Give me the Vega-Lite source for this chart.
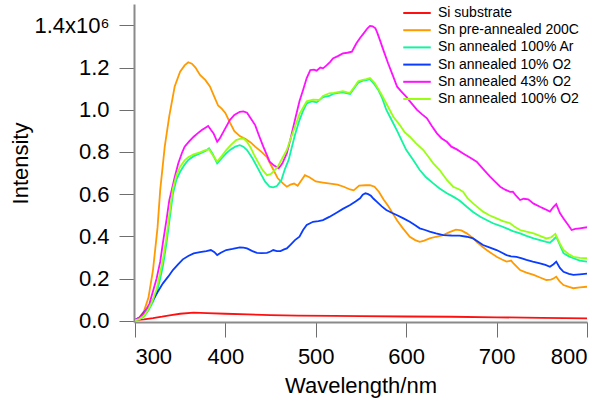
{
  "$schema": "https://vega.github.io/schema/vega-lite/v6.json",
  "autosize": "none",
  "width": 453,
  "height": 318,
  "padding": {"left": 134, "top": 4, "right": 26, "bottom": 86},
  "background": "white",
  "config": {
    "view": {"stroke": null},
    "font": "Liberation Sans",
    "axis": {
      "domainColor": "#8a8a8a",
      "domainWidth": 2,
      "tickColor": "#6e6e6e",
      "tickWidth": 1,
      "tickSize": 15,
      "grid": false,
      "labelFont": "Liberation Sans",
      "labelFontSize": 22,
      "labelColor": "#000000",
      "titleFont": "Liberation Sans",
      "titleFontSize": 22,
      "titleFontWeight": "normal",
      "titleColor": "#000000"
    },
    "legend": {
      "labelFont": "Liberation Sans",
      "labelFontSize": 14,
      "labelColor": "#000000"
    }
  },
  "data": {
    "values": [
      {"s": "Si substrate", "x": 300, "y": 3000},
      {"s": "Si substrate", "x": 310, "y": 6000},
      {"s": "Si substrate", "x": 320, "y": 12000},
      {"s": "Si substrate", "x": 330, "y": 19000},
      {"s": "Si substrate", "x": 340, "y": 27000},
      {"s": "Si substrate", "x": 350, "y": 33000},
      {"s": "Si substrate", "x": 365, "y": 38000},
      {"s": "Si substrate", "x": 380, "y": 36000},
      {"s": "Si substrate", "x": 400, "y": 33000},
      {"s": "Si substrate", "x": 425, "y": 30000},
      {"s": "Si substrate", "x": 450, "y": 27000},
      {"s": "Si substrate", "x": 480, "y": 24000},
      {"s": "Si substrate", "x": 520, "y": 23000},
      {"s": "Si substrate", "x": 550, "y": 22000},
      {"s": "Si substrate", "x": 600, "y": 20000},
      {"s": "Si substrate", "x": 650, "y": 19000},
      {"s": "Si substrate", "x": 700, "y": 16000},
      {"s": "Si substrate", "x": 750, "y": 14000},
      {"s": "Si substrate", "x": 800, "y": 11000},

      {"s": "Sn pre-annealed 200C", "x": 300, "y": 3000},
      {"s": "Sn pre-annealed 200C", "x": 305, "y": 15000},
      {"s": "Sn pre-annealed 200C", "x": 310, "y": 45000},
      {"s": "Sn pre-annealed 200C", "x": 315, "y": 110000},
      {"s": "Sn pre-annealed 200C", "x": 320, "y": 240000},
      {"s": "Sn pre-annealed 200C", "x": 325, "y": 440000},
      {"s": "Sn pre-annealed 200C", "x": 328, "y": 620000},
      {"s": "Sn pre-annealed 200C", "x": 333, "y": 825000},
      {"s": "Sn pre-annealed 200C", "x": 338, "y": 970000},
      {"s": "Sn pre-annealed 200C", "x": 344, "y": 1110000},
      {"s": "Sn pre-annealed 200C", "x": 350, "y": 1180000},
      {"s": "Sn pre-annealed 200C", "x": 355, "y": 1210000},
      {"s": "Sn pre-annealed 200C", "x": 359, "y": 1225000},
      {"s": "Sn pre-annealed 200C", "x": 363, "y": 1218000},
      {"s": "Sn pre-annealed 200C", "x": 367, "y": 1200000},
      {"s": "Sn pre-annealed 200C", "x": 372, "y": 1165000},
      {"s": "Sn pre-annealed 200C", "x": 378, "y": 1140000},
      {"s": "Sn pre-annealed 200C", "x": 383, "y": 1110000},
      {"s": "Sn pre-annealed 200C", "x": 388, "y": 1060000},
      {"s": "Sn pre-annealed 200C", "x": 392, "y": 1020000},
      {"s": "Sn pre-annealed 200C", "x": 396, "y": 1005000},
      {"s": "Sn pre-annealed 200C", "x": 400, "y": 985000},
      {"s": "Sn pre-annealed 200C", "x": 405, "y": 940000},
      {"s": "Sn pre-annealed 200C", "x": 410, "y": 898000},
      {"s": "Sn pre-annealed 200C", "x": 416, "y": 875000},
      {"s": "Sn pre-annealed 200C", "x": 422, "y": 862000},
      {"s": "Sn pre-annealed 200C", "x": 428, "y": 845000},
      {"s": "Sn pre-annealed 200C", "x": 433, "y": 825000},
      {"s": "Sn pre-annealed 200C", "x": 440, "y": 800000},
      {"s": "Sn pre-annealed 200C", "x": 446, "y": 775000},
      {"s": "Sn pre-annealed 200C", "x": 452, "y": 725000},
      {"s": "Sn pre-annealed 200C", "x": 458, "y": 675000},
      {"s": "Sn pre-annealed 200C", "x": 464, "y": 650000},
      {"s": "Sn pre-annealed 200C", "x": 468, "y": 635000},
      {"s": "Sn pre-annealed 200C", "x": 472, "y": 645000},
      {"s": "Sn pre-annealed 200C", "x": 476, "y": 650000},
      {"s": "Sn pre-annealed 200C", "x": 480, "y": 640000},
      {"s": "Sn pre-annealed 200C", "x": 484, "y": 665000},
      {"s": "Sn pre-annealed 200C", "x": 488, "y": 690000},
      {"s": "Sn pre-annealed 200C", "x": 493, "y": 680000},
      {"s": "Sn pre-annealed 200C", "x": 500, "y": 660000},
      {"s": "Sn pre-annealed 200C", "x": 508, "y": 655000},
      {"s": "Sn pre-annealed 200C", "x": 516, "y": 650000},
      {"s": "Sn pre-annealed 200C", "x": 524, "y": 645000},
      {"s": "Sn pre-annealed 200C", "x": 531, "y": 635000},
      {"s": "Sn pre-annealed 200C", "x": 538, "y": 622000},
      {"s": "Sn pre-annealed 200C", "x": 542, "y": 618000},
      {"s": "Sn pre-annealed 200C", "x": 548, "y": 640000},
      {"s": "Sn pre-annealed 200C", "x": 555, "y": 642000},
      {"s": "Sn pre-annealed 200C", "x": 560, "y": 643000},
      {"s": "Sn pre-annealed 200C", "x": 565, "y": 635000},
      {"s": "Sn pre-annealed 200C", "x": 570, "y": 610000},
      {"s": "Sn pre-annealed 200C", "x": 575, "y": 575000},
      {"s": "Sn pre-annealed 200C", "x": 580, "y": 545000},
      {"s": "Sn pre-annealed 200C", "x": 585, "y": 510000},
      {"s": "Sn pre-annealed 200C", "x": 590, "y": 475000},
      {"s": "Sn pre-annealed 200C", "x": 596, "y": 440000},
      {"s": "Sn pre-annealed 200C", "x": 604, "y": 398000},
      {"s": "Sn pre-annealed 200C", "x": 610, "y": 382000},
      {"s": "Sn pre-annealed 200C", "x": 615, "y": 374000},
      {"s": "Sn pre-annealed 200C", "x": 620, "y": 380000},
      {"s": "Sn pre-annealed 200C", "x": 626, "y": 390000},
      {"s": "Sn pre-annealed 200C", "x": 633, "y": 398000},
      {"s": "Sn pre-annealed 200C", "x": 641, "y": 406000},
      {"s": "Sn pre-annealed 200C", "x": 648, "y": 420000},
      {"s": "Sn pre-annealed 200C", "x": 655, "y": 432000},
      {"s": "Sn pre-annealed 200C", "x": 661, "y": 428000},
      {"s": "Sn pre-annealed 200C", "x": 667, "y": 414000},
      {"s": "Sn pre-annealed 200C", "x": 673, "y": 395000},
      {"s": "Sn pre-annealed 200C", "x": 678, "y": 374000},
      {"s": "Sn pre-annealed 200C", "x": 684, "y": 352000},
      {"s": "Sn pre-annealed 200C", "x": 689, "y": 335000},
      {"s": "Sn pre-annealed 200C", "x": 695, "y": 318000},
      {"s": "Sn pre-annealed 200C", "x": 700, "y": 303000},
      {"s": "Sn pre-annealed 200C", "x": 706, "y": 290000},
      {"s": "Sn pre-annealed 200C", "x": 711, "y": 280000},
      {"s": "Sn pre-annealed 200C", "x": 716, "y": 285000},
      {"s": "Sn pre-annealed 200C", "x": 719, "y": 270000},
      {"s": "Sn pre-annealed 200C", "x": 726, "y": 240000},
      {"s": "Sn pre-annealed 200C", "x": 733, "y": 228000},
      {"s": "Sn pre-annealed 200C", "x": 741, "y": 217000},
      {"s": "Sn pre-annealed 200C", "x": 748, "y": 205000},
      {"s": "Sn pre-annealed 200C", "x": 755, "y": 193000},
      {"s": "Sn pre-annealed 200C", "x": 760, "y": 195000},
      {"s": "Sn pre-annealed 200C", "x": 763, "y": 200000},
      {"s": "Sn pre-annealed 200C", "x": 766, "y": 209000},
      {"s": "Sn pre-annealed 200C", "x": 770, "y": 185000},
      {"s": "Sn pre-annealed 200C", "x": 774, "y": 169000},
      {"s": "Sn pre-annealed 200C", "x": 780, "y": 160000},
      {"s": "Sn pre-annealed 200C", "x": 785, "y": 154000},
      {"s": "Sn pre-annealed 200C", "x": 792, "y": 158000},
      {"s": "Sn pre-annealed 200C", "x": 800, "y": 161000},

      {"s": "Sn annealed 100% Ar", "x": 300, "y": 2000},
      {"s": "Sn annealed 100% Ar", "x": 305, "y": 8000},
      {"s": "Sn annealed 100% Ar", "x": 310, "y": 20000},
      {"s": "Sn annealed 100% Ar", "x": 315, "y": 50000},
      {"s": "Sn annealed 100% Ar", "x": 320, "y": 90000},
      {"s": "Sn annealed 100% Ar", "x": 324, "y": 130000},
      {"s": "Sn annealed 100% Ar", "x": 328, "y": 200000},
      {"s": "Sn annealed 100% Ar", "x": 331, "y": 260000},
      {"s": "Sn annealed 100% Ar", "x": 335, "y": 370000},
      {"s": "Sn annealed 100% Ar", "x": 338, "y": 470000},
      {"s": "Sn annealed 100% Ar", "x": 342, "y": 600000},
      {"s": "Sn annealed 100% Ar", "x": 346, "y": 670000},
      {"s": "Sn annealed 100% Ar", "x": 350, "y": 706000},
      {"s": "Sn annealed 100% Ar", "x": 355, "y": 740000},
      {"s": "Sn annealed 100% Ar", "x": 359, "y": 762000},
      {"s": "Sn annealed 100% Ar", "x": 365, "y": 780000},
      {"s": "Sn annealed 100% Ar", "x": 372, "y": 793000},
      {"s": "Sn annealed 100% Ar", "x": 378, "y": 805000},
      {"s": "Sn annealed 100% Ar", "x": 382, "y": 817000},
      {"s": "Sn annealed 100% Ar", "x": 386, "y": 790000},
      {"s": "Sn annealed 100% Ar", "x": 391, "y": 746000},
      {"s": "Sn annealed 100% Ar", "x": 396, "y": 770000},
      {"s": "Sn annealed 100% Ar", "x": 401, "y": 793000},
      {"s": "Sn annealed 100% Ar", "x": 406, "y": 812000},
      {"s": "Sn annealed 100% Ar", "x": 411, "y": 825000},
      {"s": "Sn annealed 100% Ar", "x": 416, "y": 832000},
      {"s": "Sn annealed 100% Ar", "x": 420, "y": 825000},
      {"s": "Sn annealed 100% Ar", "x": 424, "y": 809000},
      {"s": "Sn annealed 100% Ar", "x": 430, "y": 770000},
      {"s": "Sn annealed 100% Ar", "x": 435, "y": 730000},
      {"s": "Sn annealed 100% Ar", "x": 440, "y": 690000},
      {"s": "Sn annealed 100% Ar", "x": 444, "y": 659000},
      {"s": "Sn annealed 100% Ar", "x": 449, "y": 635000},
      {"s": "Sn annealed 100% Ar", "x": 453, "y": 632000},
      {"s": "Sn annealed 100% Ar", "x": 457, "y": 638000},
      {"s": "Sn annealed 100% Ar", "x": 462, "y": 667000},
      {"s": "Sn annealed 100% Ar", "x": 466, "y": 720000},
      {"s": "Sn annealed 100% Ar", "x": 470, "y": 762000},
      {"s": "Sn annealed 100% Ar", "x": 474, "y": 830000},
      {"s": "Sn annealed 100% Ar", "x": 477, "y": 880000},
      {"s": "Sn annealed 100% Ar", "x": 482, "y": 951000},
      {"s": "Sn annealed 100% Ar", "x": 486, "y": 995000},
      {"s": "Sn annealed 100% Ar", "x": 490, "y": 1030000},
      {"s": "Sn annealed 100% Ar", "x": 496, "y": 1040000},
      {"s": "Sn annealed 100% Ar", "x": 501, "y": 1035000},
      {"s": "Sn annealed 100% Ar", "x": 508, "y": 1060000},
      {"s": "Sn annealed 100% Ar", "x": 515, "y": 1065000},
      {"s": "Sn annealed 100% Ar", "x": 519, "y": 1075000},
      {"s": "Sn annealed 100% Ar", "x": 525, "y": 1080000},
      {"s": "Sn annealed 100% Ar", "x": 530, "y": 1082000},
      {"s": "Sn annealed 100% Ar", "x": 535, "y": 1078000},
      {"s": "Sn annealed 100% Ar", "x": 538, "y": 1075000},
      {"s": "Sn annealed 100% Ar", "x": 543, "y": 1105000},
      {"s": "Sn annealed 100% Ar", "x": 547, "y": 1128000},
      {"s": "Sn annealed 100% Ar", "x": 552, "y": 1138000},
      {"s": "Sn annealed 100% Ar", "x": 556, "y": 1140000},
      {"s": "Sn annealed 100% Ar", "x": 560, "y": 1145000},
      {"s": "Sn annealed 100% Ar", "x": 565, "y": 1120000},
      {"s": "Sn annealed 100% Ar", "x": 569, "y": 1095000},
      {"s": "Sn annealed 100% Ar", "x": 573, "y": 1060000},
      {"s": "Sn annealed 100% Ar", "x": 578, "y": 1000000},
      {"s": "Sn annealed 100% Ar", "x": 584, "y": 950000},
      {"s": "Sn annealed 100% Ar", "x": 590, "y": 900000},
      {"s": "Sn annealed 100% Ar", "x": 595, "y": 855000},
      {"s": "Sn annealed 100% Ar", "x": 600, "y": 810000},
      {"s": "Sn annealed 100% Ar", "x": 608, "y": 760000},
      {"s": "Sn annealed 100% Ar", "x": 615, "y": 714000},
      {"s": "Sn annealed 100% Ar", "x": 622, "y": 680000},
      {"s": "Sn annealed 100% Ar", "x": 630, "y": 651000},
      {"s": "Sn annealed 100% Ar", "x": 637, "y": 627000},
      {"s": "Sn annealed 100% Ar", "x": 645, "y": 604000},
      {"s": "Sn annealed 100% Ar", "x": 652, "y": 588000},
      {"s": "Sn annealed 100% Ar", "x": 659, "y": 570000},
      {"s": "Sn annealed 100% Ar", "x": 667, "y": 540000},
      {"s": "Sn annealed 100% Ar", "x": 674, "y": 515000},
      {"s": "Sn annealed 100% Ar", "x": 682, "y": 493000},
      {"s": "Sn annealed 100% Ar", "x": 690, "y": 475000},
      {"s": "Sn annealed 100% Ar", "x": 696, "y": 462000},
      {"s": "Sn annealed 100% Ar", "x": 704, "y": 450000},
      {"s": "Sn annealed 100% Ar", "x": 711, "y": 438000},
      {"s": "Sn annealed 100% Ar", "x": 718, "y": 425000},
      {"s": "Sn annealed 100% Ar", "x": 726, "y": 414000},
      {"s": "Sn annealed 100% Ar", "x": 733, "y": 402000},
      {"s": "Sn annealed 100% Ar", "x": 741, "y": 390000},
      {"s": "Sn annealed 100% Ar", "x": 748, "y": 382000},
      {"s": "Sn annealed 100% Ar", "x": 755, "y": 374000},
      {"s": "Sn annealed 100% Ar", "x": 759, "y": 370000},
      {"s": "Sn annealed 100% Ar", "x": 763, "y": 385000},
      {"s": "Sn annealed 100% Ar", "x": 766, "y": 398000},
      {"s": "Sn annealed 100% Ar", "x": 770, "y": 360000},
      {"s": "Sn annealed 100% Ar", "x": 774, "y": 320000},
      {"s": "Sn annealed 100% Ar", "x": 780, "y": 305000},
      {"s": "Sn annealed 100% Ar", "x": 785, "y": 296000},
      {"s": "Sn annealed 100% Ar", "x": 792, "y": 285000},
      {"s": "Sn annealed 100% Ar", "x": 800, "y": 280000},

      {"s": "Sn annealed 10% O2", "x": 300, "y": 3000},
      {"s": "Sn annealed 10% O2", "x": 305, "y": 15000},
      {"s": "Sn annealed 10% O2", "x": 309, "y": 35000},
      {"s": "Sn annealed 10% O2", "x": 315, "y": 65000},
      {"s": "Sn annealed 10% O2", "x": 320, "y": 98000},
      {"s": "Sn annealed 10% O2", "x": 325, "y": 135000},
      {"s": "Sn annealed 10% O2", "x": 331, "y": 177000},
      {"s": "Sn annealed 10% O2", "x": 337, "y": 210000},
      {"s": "Sn annealed 10% O2", "x": 342, "y": 240000},
      {"s": "Sn annealed 10% O2", "x": 348, "y": 268000},
      {"s": "Sn annealed 10% O2", "x": 353, "y": 291000},
      {"s": "Sn annealed 10% O2", "x": 359, "y": 307000},
      {"s": "Sn annealed 10% O2", "x": 365, "y": 319000},
      {"s": "Sn annealed 10% O2", "x": 372, "y": 325000},
      {"s": "Sn annealed 10% O2", "x": 379, "y": 330000},
      {"s": "Sn annealed 10% O2", "x": 384, "y": 335000},
      {"s": "Sn annealed 10% O2", "x": 388, "y": 325000},
      {"s": "Sn annealed 10% O2", "x": 391, "y": 311000},
      {"s": "Sn annealed 10% O2", "x": 395, "y": 322000},
      {"s": "Sn annealed 10% O2", "x": 401, "y": 335000},
      {"s": "Sn annealed 10% O2", "x": 408, "y": 340000},
      {"s": "Sn annealed 10% O2", "x": 416, "y": 348000},
      {"s": "Sn annealed 10% O2", "x": 420, "y": 346000},
      {"s": "Sn annealed 10% O2", "x": 424, "y": 343000},
      {"s": "Sn annealed 10% O2", "x": 430, "y": 330000},
      {"s": "Sn annealed 10% O2", "x": 435, "y": 322000},
      {"s": "Sn annealed 10% O2", "x": 440, "y": 320000},
      {"s": "Sn annealed 10% O2", "x": 446, "y": 322000},
      {"s": "Sn annealed 10% O2", "x": 450, "y": 328000},
      {"s": "Sn annealed 10% O2", "x": 453, "y": 335000},
      {"s": "Sn annealed 10% O2", "x": 457, "y": 330000},
      {"s": "Sn annealed 10% O2", "x": 461, "y": 330000},
      {"s": "Sn annealed 10% O2", "x": 465, "y": 338000},
      {"s": "Sn annealed 10% O2", "x": 468, "y": 343000},
      {"s": "Sn annealed 10% O2", "x": 472, "y": 360000},
      {"s": "Sn annealed 10% O2", "x": 477, "y": 382000},
      {"s": "Sn annealed 10% O2", "x": 482, "y": 398000},
      {"s": "Sn annealed 10% O2", "x": 486, "y": 430000},
      {"s": "Sn annealed 10% O2", "x": 490, "y": 454000},
      {"s": "Sn annealed 10% O2", "x": 497, "y": 469000},
      {"s": "Sn annealed 10% O2", "x": 503, "y": 472000},
      {"s": "Sn annealed 10% O2", "x": 508, "y": 477000},
      {"s": "Sn annealed 10% O2", "x": 515, "y": 492000},
      {"s": "Sn annealed 10% O2", "x": 523, "y": 512000},
      {"s": "Sn annealed 10% O2", "x": 530, "y": 530000},
      {"s": "Sn annealed 10% O2", "x": 538, "y": 548000},
      {"s": "Sn annealed 10% O2", "x": 544, "y": 565000},
      {"s": "Sn annealed 10% O2", "x": 549, "y": 580000},
      {"s": "Sn annealed 10% O2", "x": 552, "y": 597000},
      {"s": "Sn annealed 10% O2", "x": 555, "y": 604000},
      {"s": "Sn annealed 10% O2", "x": 558, "y": 600000},
      {"s": "Sn annealed 10% O2", "x": 561, "y": 592000},
      {"s": "Sn annealed 10% O2", "x": 564, "y": 578000},
      {"s": "Sn annealed 10% O2", "x": 568, "y": 562000},
      {"s": "Sn annealed 10% O2", "x": 573, "y": 542000},
      {"s": "Sn annealed 10% O2", "x": 578, "y": 525000},
      {"s": "Sn annealed 10% O2", "x": 584, "y": 512000},
      {"s": "Sn annealed 10% O2", "x": 590, "y": 500000},
      {"s": "Sn annealed 10% O2", "x": 597, "y": 485000},
      {"s": "Sn annealed 10% O2", "x": 604, "y": 469000},
      {"s": "Sn annealed 10% O2", "x": 610, "y": 452000},
      {"s": "Sn annealed 10% O2", "x": 615, "y": 438000},
      {"s": "Sn annealed 10% O2", "x": 621, "y": 430000},
      {"s": "Sn annealed 10% O2", "x": 626, "y": 422000},
      {"s": "Sn annealed 10% O2", "x": 633, "y": 414000},
      {"s": "Sn annealed 10% O2", "x": 641, "y": 406000},
      {"s": "Sn annealed 10% O2", "x": 650, "y": 404000},
      {"s": "Sn annealed 10% O2", "x": 659, "y": 403000},
      {"s": "Sn annealed 10% O2", "x": 667, "y": 398000},
      {"s": "Sn annealed 10% O2", "x": 674, "y": 390000},
      {"s": "Sn annealed 10% O2", "x": 680, "y": 373000},
      {"s": "Sn annealed 10% O2", "x": 685, "y": 359000},
      {"s": "Sn annealed 10% O2", "x": 692, "y": 348000},
      {"s": "Sn annealed 10% O2", "x": 700, "y": 335000},
      {"s": "Sn annealed 10% O2", "x": 706, "y": 322000},
      {"s": "Sn annealed 10% O2", "x": 711, "y": 311000},
      {"s": "Sn annealed 10% O2", "x": 716, "y": 305000},
      {"s": "Sn annealed 10% O2", "x": 722, "y": 303000},
      {"s": "Sn annealed 10% O2", "x": 728, "y": 295000},
      {"s": "Sn annealed 10% O2", "x": 733, "y": 288000},
      {"s": "Sn annealed 10% O2", "x": 740, "y": 280000},
      {"s": "Sn annealed 10% O2", "x": 748, "y": 272000},
      {"s": "Sn annealed 10% O2", "x": 754, "y": 265000},
      {"s": "Sn annealed 10% O2", "x": 759, "y": 256000},
      {"s": "Sn annealed 10% O2", "x": 763, "y": 268000},
      {"s": "Sn annealed 10% O2", "x": 766, "y": 280000},
      {"s": "Sn annealed 10% O2", "x": 770, "y": 250000},
      {"s": "Sn annealed 10% O2", "x": 774, "y": 232000},
      {"s": "Sn annealed 10% O2", "x": 780, "y": 222000},
      {"s": "Sn annealed 10% O2", "x": 785, "y": 217000},
      {"s": "Sn annealed 10% O2", "x": 792, "y": 220000},
      {"s": "Sn annealed 10% O2", "x": 800, "y": 223000},

      {"s": "Sn annealed 43% O2", "x": 300, "y": 2000},
      {"s": "Sn annealed 43% O2", "x": 305, "y": 15000},
      {"s": "Sn annealed 43% O2", "x": 310, "y": 35000},
      {"s": "Sn annealed 43% O2", "x": 316, "y": 80000},
      {"s": "Sn annealed 43% O2", "x": 320, "y": 140000},
      {"s": "Sn annealed 43% O2", "x": 324, "y": 200000},
      {"s": "Sn annealed 43% O2", "x": 328, "y": 280000},
      {"s": "Sn annealed 43% O2", "x": 331, "y": 370000},
      {"s": "Sn annealed 43% O2", "x": 335, "y": 480000},
      {"s": "Sn annealed 43% O2", "x": 338, "y": 570000},
      {"s": "Sn annealed 43% O2", "x": 341, "y": 625000},
      {"s": "Sn annealed 43% O2", "x": 344, "y": 680000},
      {"s": "Sn annealed 43% O2", "x": 348, "y": 746000},
      {"s": "Sn annealed 43% O2", "x": 352, "y": 795000},
      {"s": "Sn annealed 43% O2", "x": 355, "y": 825000},
      {"s": "Sn annealed 43% O2", "x": 360, "y": 850000},
      {"s": "Sn annealed 43% O2", "x": 365, "y": 872000},
      {"s": "Sn annealed 43% O2", "x": 370, "y": 890000},
      {"s": "Sn annealed 43% O2", "x": 374, "y": 904000},
      {"s": "Sn annealed 43% O2", "x": 378, "y": 915000},
      {"s": "Sn annealed 43% O2", "x": 381, "y": 923000},
      {"s": "Sn annealed 43% O2", "x": 384, "y": 905000},
      {"s": "Sn annealed 43% O2", "x": 387, "y": 888000},
      {"s": "Sn annealed 43% O2", "x": 391, "y": 848000},
      {"s": "Sn annealed 43% O2", "x": 394, "y": 865000},
      {"s": "Sn annealed 43% O2", "x": 398, "y": 896000},
      {"s": "Sn annealed 43% O2", "x": 401, "y": 920000},
      {"s": "Sn annealed 43% O2", "x": 405, "y": 951000},
      {"s": "Sn annealed 43% O2", "x": 410, "y": 975000},
      {"s": "Sn annealed 43% O2", "x": 416, "y": 990000},
      {"s": "Sn annealed 43% O2", "x": 420, "y": 992000},
      {"s": "Sn annealed 43% O2", "x": 424, "y": 986000},
      {"s": "Sn annealed 43% O2", "x": 428, "y": 960000},
      {"s": "Sn annealed 43% O2", "x": 433, "y": 927000},
      {"s": "Sn annealed 43% O2", "x": 437, "y": 880000},
      {"s": "Sn annealed 43% O2", "x": 442, "y": 825000},
      {"s": "Sn annealed 43% O2", "x": 446, "y": 785000},
      {"s": "Sn annealed 43% O2", "x": 449, "y": 754000},
      {"s": "Sn annealed 43% O2", "x": 454, "y": 735000},
      {"s": "Sn annealed 43% O2", "x": 459, "y": 722000},
      {"s": "Sn annealed 43% O2", "x": 463, "y": 745000},
      {"s": "Sn annealed 43% O2", "x": 468, "y": 793000},
      {"s": "Sn annealed 43% O2", "x": 472, "y": 860000},
      {"s": "Sn annealed 43% O2", "x": 477, "y": 951000},
      {"s": "Sn annealed 43% O2", "x": 482, "y": 1040000},
      {"s": "Sn annealed 43% O2", "x": 486, "y": 1093000},
      {"s": "Sn annealed 43% O2", "x": 490, "y": 1150000},
      {"s": "Sn annealed 43% O2", "x": 494, "y": 1188000},
      {"s": "Sn annealed 43% O2", "x": 498, "y": 1190000},
      {"s": "Sn annealed 43% O2", "x": 501, "y": 1185000},
      {"s": "Sn annealed 43% O2", "x": 505, "y": 1200000},
      {"s": "Sn annealed 43% O2", "x": 508, "y": 1196000},
      {"s": "Sn annealed 43% O2", "x": 512, "y": 1210000},
      {"s": "Sn annealed 43% O2", "x": 516, "y": 1227000},
      {"s": "Sn annealed 43% O2", "x": 519, "y": 1243000},
      {"s": "Sn annealed 43% O2", "x": 525, "y": 1255000},
      {"s": "Sn annealed 43% O2", "x": 530, "y": 1267000},
      {"s": "Sn annealed 43% O2", "x": 535, "y": 1270000},
      {"s": "Sn annealed 43% O2", "x": 540, "y": 1275000},
      {"s": "Sn annealed 43% O2", "x": 545, "y": 1315000},
      {"s": "Sn annealed 43% O2", "x": 549, "y": 1340000},
      {"s": "Sn annealed 43% O2", "x": 553, "y": 1362000},
      {"s": "Sn annealed 43% O2", "x": 557, "y": 1385000},
      {"s": "Sn annealed 43% O2", "x": 560, "y": 1397000},
      {"s": "Sn annealed 43% O2", "x": 563, "y": 1395000},
      {"s": "Sn annealed 43% O2", "x": 566, "y": 1386000},
      {"s": "Sn annealed 43% O2", "x": 568, "y": 1365000},
      {"s": "Sn annealed 43% O2", "x": 571, "y": 1330000},
      {"s": "Sn annealed 43% O2", "x": 575, "y": 1280000},
      {"s": "Sn annealed 43% O2", "x": 580, "y": 1220000},
      {"s": "Sn annealed 43% O2", "x": 585, "y": 1165000},
      {"s": "Sn annealed 43% O2", "x": 590, "y": 1109000},
      {"s": "Sn annealed 43% O2", "x": 595, "y": 1085000},
      {"s": "Sn annealed 43% O2", "x": 600, "y": 1062000},
      {"s": "Sn annealed 43% O2", "x": 606, "y": 1030000},
      {"s": "Sn annealed 43% O2", "x": 612, "y": 999000},
      {"s": "Sn annealed 43% O2", "x": 617, "y": 980000},
      {"s": "Sn annealed 43% O2", "x": 623, "y": 959000},
      {"s": "Sn annealed 43% O2", "x": 628, "y": 925000},
      {"s": "Sn annealed 43% O2", "x": 634, "y": 888000},
      {"s": "Sn annealed 43% O2", "x": 639, "y": 865000},
      {"s": "Sn annealed 43% O2", "x": 645, "y": 848000},
      {"s": "Sn annealed 43% O2", "x": 650, "y": 825000},
      {"s": "Sn annealed 43% O2", "x": 656, "y": 812000},
      {"s": "Sn annealed 43% O2", "x": 663, "y": 793000},
      {"s": "Sn annealed 43% O2", "x": 670, "y": 775000},
      {"s": "Sn annealed 43% O2", "x": 678, "y": 754000},
      {"s": "Sn annealed 43% O2", "x": 685, "y": 720000},
      {"s": "Sn annealed 43% O2", "x": 693, "y": 682000},
      {"s": "Sn annealed 43% O2", "x": 698, "y": 660000},
      {"s": "Sn annealed 43% O2", "x": 704, "y": 635000},
      {"s": "Sn annealed 43% O2", "x": 710, "y": 620000},
      {"s": "Sn annealed 43% O2", "x": 715, "y": 611000},
      {"s": "Sn annealed 43% O2", "x": 718, "y": 612000},
      {"s": "Sn annealed 43% O2", "x": 722, "y": 590000},
      {"s": "Sn annealed 43% O2", "x": 726, "y": 572000},
      {"s": "Sn annealed 43% O2", "x": 730, "y": 578000},
      {"s": "Sn annealed 43% O2", "x": 735, "y": 575000},
      {"s": "Sn annealed 43% O2", "x": 741, "y": 555000},
      {"s": "Sn annealed 43% O2", "x": 748, "y": 540000},
      {"s": "Sn annealed 43% O2", "x": 754, "y": 528000},
      {"s": "Sn annealed 43% O2", "x": 759, "y": 517000},
      {"s": "Sn annealed 43% O2", "x": 763, "y": 540000},
      {"s": "Sn annealed 43% O2", "x": 766, "y": 553000},
      {"s": "Sn annealed 43% O2", "x": 770, "y": 510000},
      {"s": "Sn annealed 43% O2", "x": 774, "y": 485000},
      {"s": "Sn annealed 43% O2", "x": 779, "y": 455000},
      {"s": "Sn annealed 43% O2", "x": 783, "y": 430000},
      {"s": "Sn annealed 43% O2", "x": 787, "y": 435000},
      {"s": "Sn annealed 43% O2", "x": 792, "y": 438000},
      {"s": "Sn annealed 43% O2", "x": 800, "y": 443000},

      {"s": "Sn annealed 100% O2", "x": 300, "y": 2000},
      {"s": "Sn annealed 100% O2", "x": 305, "y": 8000},
      {"s": "Sn annealed 100% O2", "x": 310, "y": 22000},
      {"s": "Sn annealed 100% O2", "x": 315, "y": 55000},
      {"s": "Sn annealed 100% O2", "x": 320, "y": 100000},
      {"s": "Sn annealed 100% O2", "x": 324, "y": 150000},
      {"s": "Sn annealed 100% O2", "x": 328, "y": 230000},
      {"s": "Sn annealed 100% O2", "x": 331, "y": 290000},
      {"s": "Sn annealed 100% O2", "x": 335, "y": 400000},
      {"s": "Sn annealed 100% O2", "x": 338, "y": 500000},
      {"s": "Sn annealed 100% O2", "x": 342, "y": 625000},
      {"s": "Sn annealed 100% O2", "x": 346, "y": 690000},
      {"s": "Sn annealed 100% O2", "x": 350, "y": 730000},
      {"s": "Sn annealed 100% O2", "x": 355, "y": 760000},
      {"s": "Sn annealed 100% O2", "x": 359, "y": 775000},
      {"s": "Sn annealed 100% O2", "x": 365, "y": 788000},
      {"s": "Sn annealed 100% O2", "x": 372, "y": 798000},
      {"s": "Sn annealed 100% O2", "x": 378, "y": 808000},
      {"s": "Sn annealed 100% O2", "x": 382, "y": 812000},
      {"s": "Sn annealed 100% O2", "x": 386, "y": 785000},
      {"s": "Sn annealed 100% O2", "x": 391, "y": 754000},
      {"s": "Sn annealed 100% O2", "x": 396, "y": 780000},
      {"s": "Sn annealed 100% O2", "x": 401, "y": 809000},
      {"s": "Sn annealed 100% O2", "x": 406, "y": 832000},
      {"s": "Sn annealed 100% O2", "x": 412, "y": 856000},
      {"s": "Sn annealed 100% O2", "x": 416, "y": 862000},
      {"s": "Sn annealed 100% O2", "x": 420, "y": 864000},
      {"s": "Sn annealed 100% O2", "x": 424, "y": 848000},
      {"s": "Sn annealed 100% O2", "x": 428, "y": 820000},
      {"s": "Sn annealed 100% O2", "x": 432, "y": 785000},
      {"s": "Sn annealed 100% O2", "x": 437, "y": 746000},
      {"s": "Sn annealed 100% O2", "x": 441, "y": 715000},
      {"s": "Sn annealed 100% O2", "x": 446, "y": 690000},
      {"s": "Sn annealed 100% O2", "x": 450, "y": 695000},
      {"s": "Sn annealed 100% O2", "x": 453, "y": 706000},
      {"s": "Sn annealed 100% O2", "x": 458, "y": 730000},
      {"s": "Sn annealed 100% O2", "x": 463, "y": 770000},
      {"s": "Sn annealed 100% O2", "x": 468, "y": 809000},
      {"s": "Sn annealed 100% O2", "x": 472, "y": 860000},
      {"s": "Sn annealed 100% O2", "x": 477, "y": 919000},
      {"s": "Sn annealed 100% O2", "x": 482, "y": 980000},
      {"s": "Sn annealed 100% O2", "x": 486, "y": 1010000},
      {"s": "Sn annealed 100% O2", "x": 490, "y": 1040000},
      {"s": "Sn annealed 100% O2", "x": 497, "y": 1048000},
      {"s": "Sn annealed 100% O2", "x": 504, "y": 1046000},
      {"s": "Sn annealed 100% O2", "x": 508, "y": 1065000},
      {"s": "Sn annealed 100% O2", "x": 515, "y": 1078000},
      {"s": "Sn annealed 100% O2", "x": 520, "y": 1080000},
      {"s": "Sn annealed 100% O2", "x": 526, "y": 1085000},
      {"s": "Sn annealed 100% O2", "x": 530, "y": 1088000},
      {"s": "Sn annealed 100% O2", "x": 535, "y": 1082000},
      {"s": "Sn annealed 100% O2", "x": 538, "y": 1080000},
      {"s": "Sn annealed 100% O2", "x": 543, "y": 1110000},
      {"s": "Sn annealed 100% O2", "x": 547, "y": 1135000},
      {"s": "Sn annealed 100% O2", "x": 552, "y": 1142000},
      {"s": "Sn annealed 100% O2", "x": 556, "y": 1145000},
      {"s": "Sn annealed 100% O2", "x": 560, "y": 1150000},
      {"s": "Sn annealed 100% O2", "x": 565, "y": 1128000},
      {"s": "Sn annealed 100% O2", "x": 569, "y": 1100000},
      {"s": "Sn annealed 100% O2", "x": 573, "y": 1070000},
      {"s": "Sn annealed 100% O2", "x": 580, "y": 1014000},
      {"s": "Sn annealed 100% O2", "x": 586, "y": 965000},
      {"s": "Sn annealed 100% O2", "x": 593, "y": 927000},
      {"s": "Sn annealed 100% O2", "x": 598, "y": 895000},
      {"s": "Sn annealed 100% O2", "x": 604, "y": 872000},
      {"s": "Sn annealed 100% O2", "x": 611, "y": 840000},
      {"s": "Sn annealed 100% O2", "x": 619, "y": 809000},
      {"s": "Sn annealed 100% O2", "x": 625, "y": 775000},
      {"s": "Sn annealed 100% O2", "x": 630, "y": 746000},
      {"s": "Sn annealed 100% O2", "x": 637, "y": 714000},
      {"s": "Sn annealed 100% O2", "x": 645, "y": 667000},
      {"s": "Sn annealed 100% O2", "x": 652, "y": 635000},
      {"s": "Sn annealed 100% O2", "x": 659, "y": 622000},
      {"s": "Sn annealed 100% O2", "x": 663, "y": 611000},
      {"s": "Sn annealed 100% O2", "x": 668, "y": 580000},
      {"s": "Sn annealed 100% O2", "x": 674, "y": 556000},
      {"s": "Sn annealed 100% O2", "x": 680, "y": 535000},
      {"s": "Sn annealed 100% O2", "x": 685, "y": 517000},
      {"s": "Sn annealed 100% O2", "x": 692, "y": 500000},
      {"s": "Sn annealed 100% O2", "x": 700, "y": 485000},
      {"s": "Sn annealed 100% O2", "x": 707, "y": 472000},
      {"s": "Sn annealed 100% O2", "x": 715, "y": 462000},
      {"s": "Sn annealed 100% O2", "x": 720, "y": 445000},
      {"s": "Sn annealed 100% O2", "x": 726, "y": 430000},
      {"s": "Sn annealed 100% O2", "x": 733, "y": 422000},
      {"s": "Sn annealed 100% O2", "x": 741, "y": 414000},
      {"s": "Sn annealed 100% O2", "x": 748, "y": 402000},
      {"s": "Sn annealed 100% O2", "x": 755, "y": 390000},
      {"s": "Sn annealed 100% O2", "x": 760, "y": 395000},
      {"s": "Sn annealed 100% O2", "x": 765, "y": 412000},
      {"s": "Sn annealed 100% O2", "x": 770, "y": 365000},
      {"s": "Sn annealed 100% O2", "x": 774, "y": 335000},
      {"s": "Sn annealed 100% O2", "x": 780, "y": 315000},
      {"s": "Sn annealed 100% O2", "x": 785, "y": 303000},
      {"s": "Sn annealed 100% O2", "x": 792, "y": 298000},
      {"s": "Sn annealed 100% O2", "x": 800, "y": 296000}
    ]
  },
  "mark": {"type": "line", "strokeWidth": 1.8, "clip": true},
  "encoding": {
    "x": {
      "field": "x",
      "type": "quantitative",
      "title": "Wavelength/nm",
      "scale": {"domain": [299, 800], "nice": false, "zero": false},
      "axis": {
        "values": [300, 400, 500, 600, 700, 800],
        "format": "d",
        "labelPadding": 9,
        "titlePadding": 8
      }
    },
    "y": {
      "field": "y",
      "type": "quantitative",
      "title": "Intensity",
      "scale": {"domain": [-6000, 1501000], "nice": false, "zero": false},
      "axis": {
        "values": [0, 200000, 400000, 600000, 800000, 1000000, 1200000, 1400000],
        "labelExpr": "datum.value >= 1400000 ? '1.4x10⁶' : format(datum.value / 1000000, '.1f')",
        "labelPadding": 10,
        "titlePadding": 1
      }
    },
    "color": {
      "field": "s",
      "type": "nominal",
      "scale": {
        "domain": ["Si substrate", "Sn pre-annealed 200C", "Sn annealed 100% Ar", "Sn annealed 10% O2", "Sn annealed 43% O2", "Sn annealed 100% O2"],
        "range": ["#ff1010", "#ff9a00", "#10f5a0", "#0a3cff", "#ff10ff", "#99ff10"]
      },
      "legend": {
        "title": null,
        "orient": "none",
        "legendX": 276,
        "legendY": 2,
        "padding": 0,
        "symbolType": "M-2.5,0H2.5",
        "symbolSize": 121,
        "symbolStrokeWidth": 2,
        "labelOffset": 14,
        "rowPadding": 3.2
      }
    },
    "order": {"field": "x", "type": "quantitative"}
  }
}
